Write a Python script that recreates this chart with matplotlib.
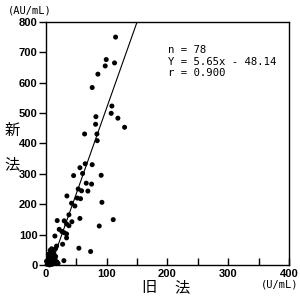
import matplotlib
matplotlib.use("Agg")
import matplotlib.pyplot as plt
import numpy as np

old_method = [114.7, 99.3, 113, 97.6, 85.6, 76.2, 108.6, 107.5, 82.3, 118.5, 81.8, 129.5, 63.7, 84, 84.5,
              91, 45.6, 64.7, 76.2, 56, 60.4, 66.4, 75.2, 53.2, 58.7, 69.1, 34.6, 51.6, 57, 42.2, 47.7, 92.2,
              37.9, 56, 110.8, 42.8, 30.1, 18.6, 34, 37.9, 21.9, 87.8, 26.3, 30.1, 34, 14.8, 34, 27.5, 17.6, 16,
              54.3, 73.6, 9.4, 29.6,
              3, 5, 8, 10, 12, 6, 4, 8, 12, 15, 2, 6, 10, 14, 18, 4, 7, 11, 13, 16, 20, 1, 9, 5]
new_method = [750, 676, 665, 655, 628, 584, 523, 499, 488, 483, 463, 453, 431, 431, 409,
              295, 294, 333, 330, 320, 301, 269, 266, 250, 244, 243, 227, 220, 218, 203, 194, 206,
              165, 153, 149, 142, 145, 146, 135, 129, 117, 128, 110, 106, 102, 95, 89, 68, 62, 54,
              55, 44, 53, 14,
              5, 10, 3, 15, 8, 25, 35, 40, 30, 20, 2, 0, 2, 5, 10, 18, 48, 45, 38, 28, 5, 12, 22, 30]
slope = 5.65
intercept = -48.14
stats_lines = ["n = 78", "Y = 5.65x - 48.14", "r = 0.900"]
x_ticks = [0, 100, 200, 300, 400]
y_ticks = [0, 100, 200, 300, 400, 500, 600, 700, 800]

cjk = ["Noto Sans CJK JP", "DejaVu Sans"]

fig = plt.figure(figsize=(3, 3), dpi=100)
ax = fig.add_axes([0.153, 0.117, 0.81, 0.81])
ax.scatter(old_method, new_method, s=13, color="black", edgecolors="none", zorder=3, clip_on=False)
xl = np.array([0, 160])
ax.plot(xl, slope * xl + intercept, color="black", lw=0.8)
ax.set_xlim(0, 400)
ax.set_ylim(0, 800)

ax.set_xticks(np.arange(0, 401, 50))
ax.set_xticklabels([str(v) if v in x_ticks else "" for v in np.arange(0, 401, 50)])
ax.set_yticks(y_ticks)
ax.tick_params(axis="x", direction="in", length=5, width=1, pad=3)
ax.tick_params(axis="y", direction="out", length=5, width=1, pad=1)
for lab in ax.get_xticklabels() + ax.get_yticklabels():
    lab.set_fontfamily("Liberation Sans")
    lab.set_fontsize(8)
    lab.set_fontweight("bold")
for sp in ax.spines.values():
    sp.set_linewidth(1)

fig.text(0.497, 0.042, "旧", ha="center", va="center", family=cjk, fontsize=11)
fig.text(0.607, 0.042, "法", ha="center", va="center", family=cjk, fontsize=11)
fig.text(0.04, 0.565, "新", ha="center", va="center", family=cjk, fontsize=11)
fig.text(0.04, 0.45, "法", ha="center", va="center", family=cjk, fontsize=11)
fig.text(0.025, 0.965, "(AU/mL)", ha="left", va="center", family="DejaVu Sans Mono", fontsize=7.5)
fig.text(0.995, 0.052, "(U/mL)", ha="right", va="center", family="DejaVu Sans Mono", fontsize=7.5)
for i, s in enumerate(stats_lines):
    fig.text(0.56, 0.832 - i * 0.0377, s, ha="left", va="center",
             family="DejaVu Sans Mono", fontsize=7.7)

fig.savefig("out.png", dpi=100)
